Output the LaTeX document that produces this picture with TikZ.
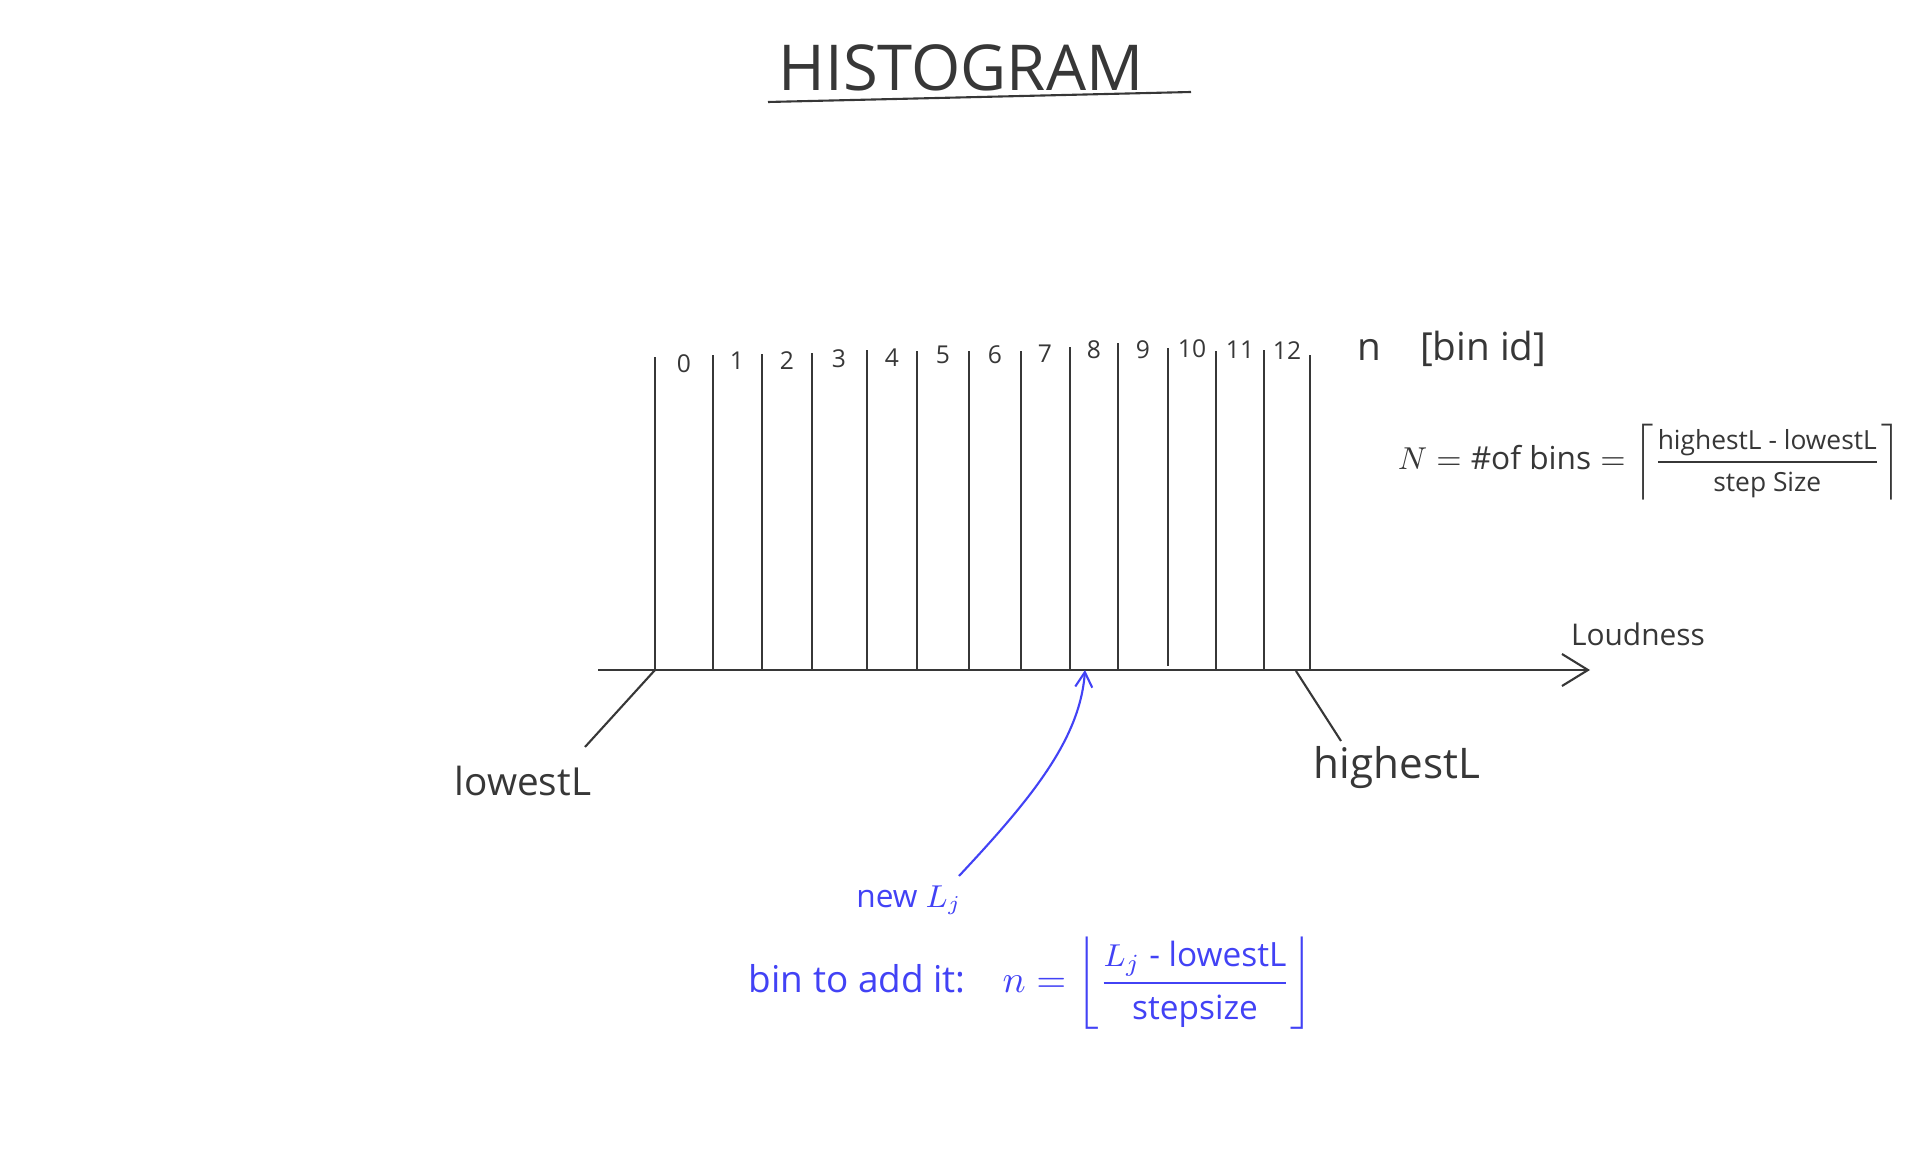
\documentclass[tikz,border=0pt]{standalone}
\usepackage{amsmath}
\usepackage{fontspec}
\setmainfont{Open Sans}
\usetikzlibrary{arrows.meta}
\definecolor{pencil}{RGB}{55,55,55}
\definecolor{penblue}{RGB}{66,66,245}

\begin{document}
\begin{tikzpicture}[x=0.01cm,y=-0.01cm,
		ink/.style={draw=pencil,line width=0.6pt},
		binline/.style={draw=pencil,line width=0.5pt},
		binlabel/.style={text=pencil,font=\fontsize{7}{8}\selectfont,inner sep=0pt},
		hand/.style={text=pencil,inner sep=1pt}]
		\useasboundingbox (0,0) rectangle (1920,1152);
		
		% Title
		\node[hand,font=\fontsize{18}{22}\selectfont] (title) at (961,68) {HISTOGRAM};
		\coordinate (ulA) at (768,102);
		\coordinate (ulB) at (1191,92);
		\draw[ink] (ulA) -- (ulB);
		
		% Axis
		\coordinate (axisL) at (598,670);
		\coordinate (axisR) at (1590,670);
		\draw[ink,-{Straight Barb[length=2.6mm,width=3.2mm]}] (axisL) -- (axisR);
		\node[hand,font=\fontsize{8.5}{10}\selectfont] (loud) at (1638,634) {Loudness};
		
		% Bin borders
		\draw[binline] (655,670) -- (655,357);
		\draw[binline] (713,670) -- (713,355);
		\draw[binline] (762,670) -- (762,354);
		\draw[binline] (812,670) -- (812,353);
		\draw[binline] (867,670) -- (867,350);
		\draw[binline] (917,670) -- (917,351);
		\draw[binline] (969,670) -- (969,351);
		\draw[binline] (1021,670) -- (1021,351);
		\draw[binline] (1070,670) -- (1070,347);
		\draw[binline] (1118,670) -- (1118,343);
		\draw[binline] (1168,666) -- (1168,348);
		\draw[binline] (1216,670) -- (1216,351);
		\draw[binline] (1264,670) -- (1264,350);
		\draw[binline] (1310,670) -- (1310,355);
		
		% Bin ids
		\node[binlabel] (b0) at (684,364) {0};
		\node[binlabel] (b1) at (737,361) {1};
		\node[binlabel] (b2) at (787,361) {2};
		\node[binlabel] (b3) at (839,359) {3};
		\node[binlabel] (b4) at (892,358) {4};
		\node[binlabel] (b5) at (943,355) {5};
		\node[binlabel] (b6) at (995,355) {6};
		\node[binlabel] (b7) at (1045,354) {7};
		\node[binlabel] (b8) at (1094,350) {8};
		\node[binlabel] (b9) at (1143,350) {9};
		\node[binlabel] (b10) at (1192,349) {10};
		\node[binlabel] (b11) at (1240,350) {11};
		\node[binlabel] (b12) at (1287,351) {12};
		\node[hand,font=\fontsize{11}{13}\selectfont] (binid) at (1452,349) {n\quad[bin id]};
		
		% Number of bins
		\node[hand,font=\fontsize{9}{11}\selectfont] (nbins) at (1649,462)
		{$N = \#\text{of bins} = \left\lceil \dfrac{\text{\fontsize{7.5}{9}\selectfont highestL - lowestL}}{\text{\fontsize{7.5}{9}\selectfont step Size}} \right\rceil$};
		
		% Lowest and highest loudness
		\node[hand,font=\fontsize{11}{13}\selectfont] (low) at (523,781) {lowestL};
		\coordinate (lowA) at (655,670);
		\coordinate (lowB) at (585,747);
		\draw[ink] (lowA) -- (lowB);
		\node[hand,font=\fontsize{12}{14}\selectfont] (high) at (1397,768) {highestL};
		\coordinate (highA) at (1296,671);
		\coordinate (highB) at (1341,741);
		\draw[ink] (highA) -- (highB);
		
		% New value and its bin
		\node[text=penblue,inner sep=1pt,font=\fontsize{9}{11}\selectfont] (newL) at (909,900) {new $L_j$};
		\coordinate (tail) at (959,876);
		\coordinate (tip) at (1085,670);
		\draw[penblue,line width=0.6pt,-{Straight Barb[length=1.5mm,width=1.7mm]}] (tail) .. controls (1030,800) and (1080,740) .. (tip);
		\node[text=penblue,inner sep=1pt,font=\fontsize{10.5}{12}\selectfont] (addbin) at (1031,983)
		{bin to add it:\quad $n = \left\lfloor \dfrac{\text{\fontsize{9.5}{11}\selectfont $L_j$ - lowestL}}{\text{\fontsize{9.5}{11}\selectfont stepsize}} \right\rfloor$};
	\end{tikzpicture}
\end{document}
